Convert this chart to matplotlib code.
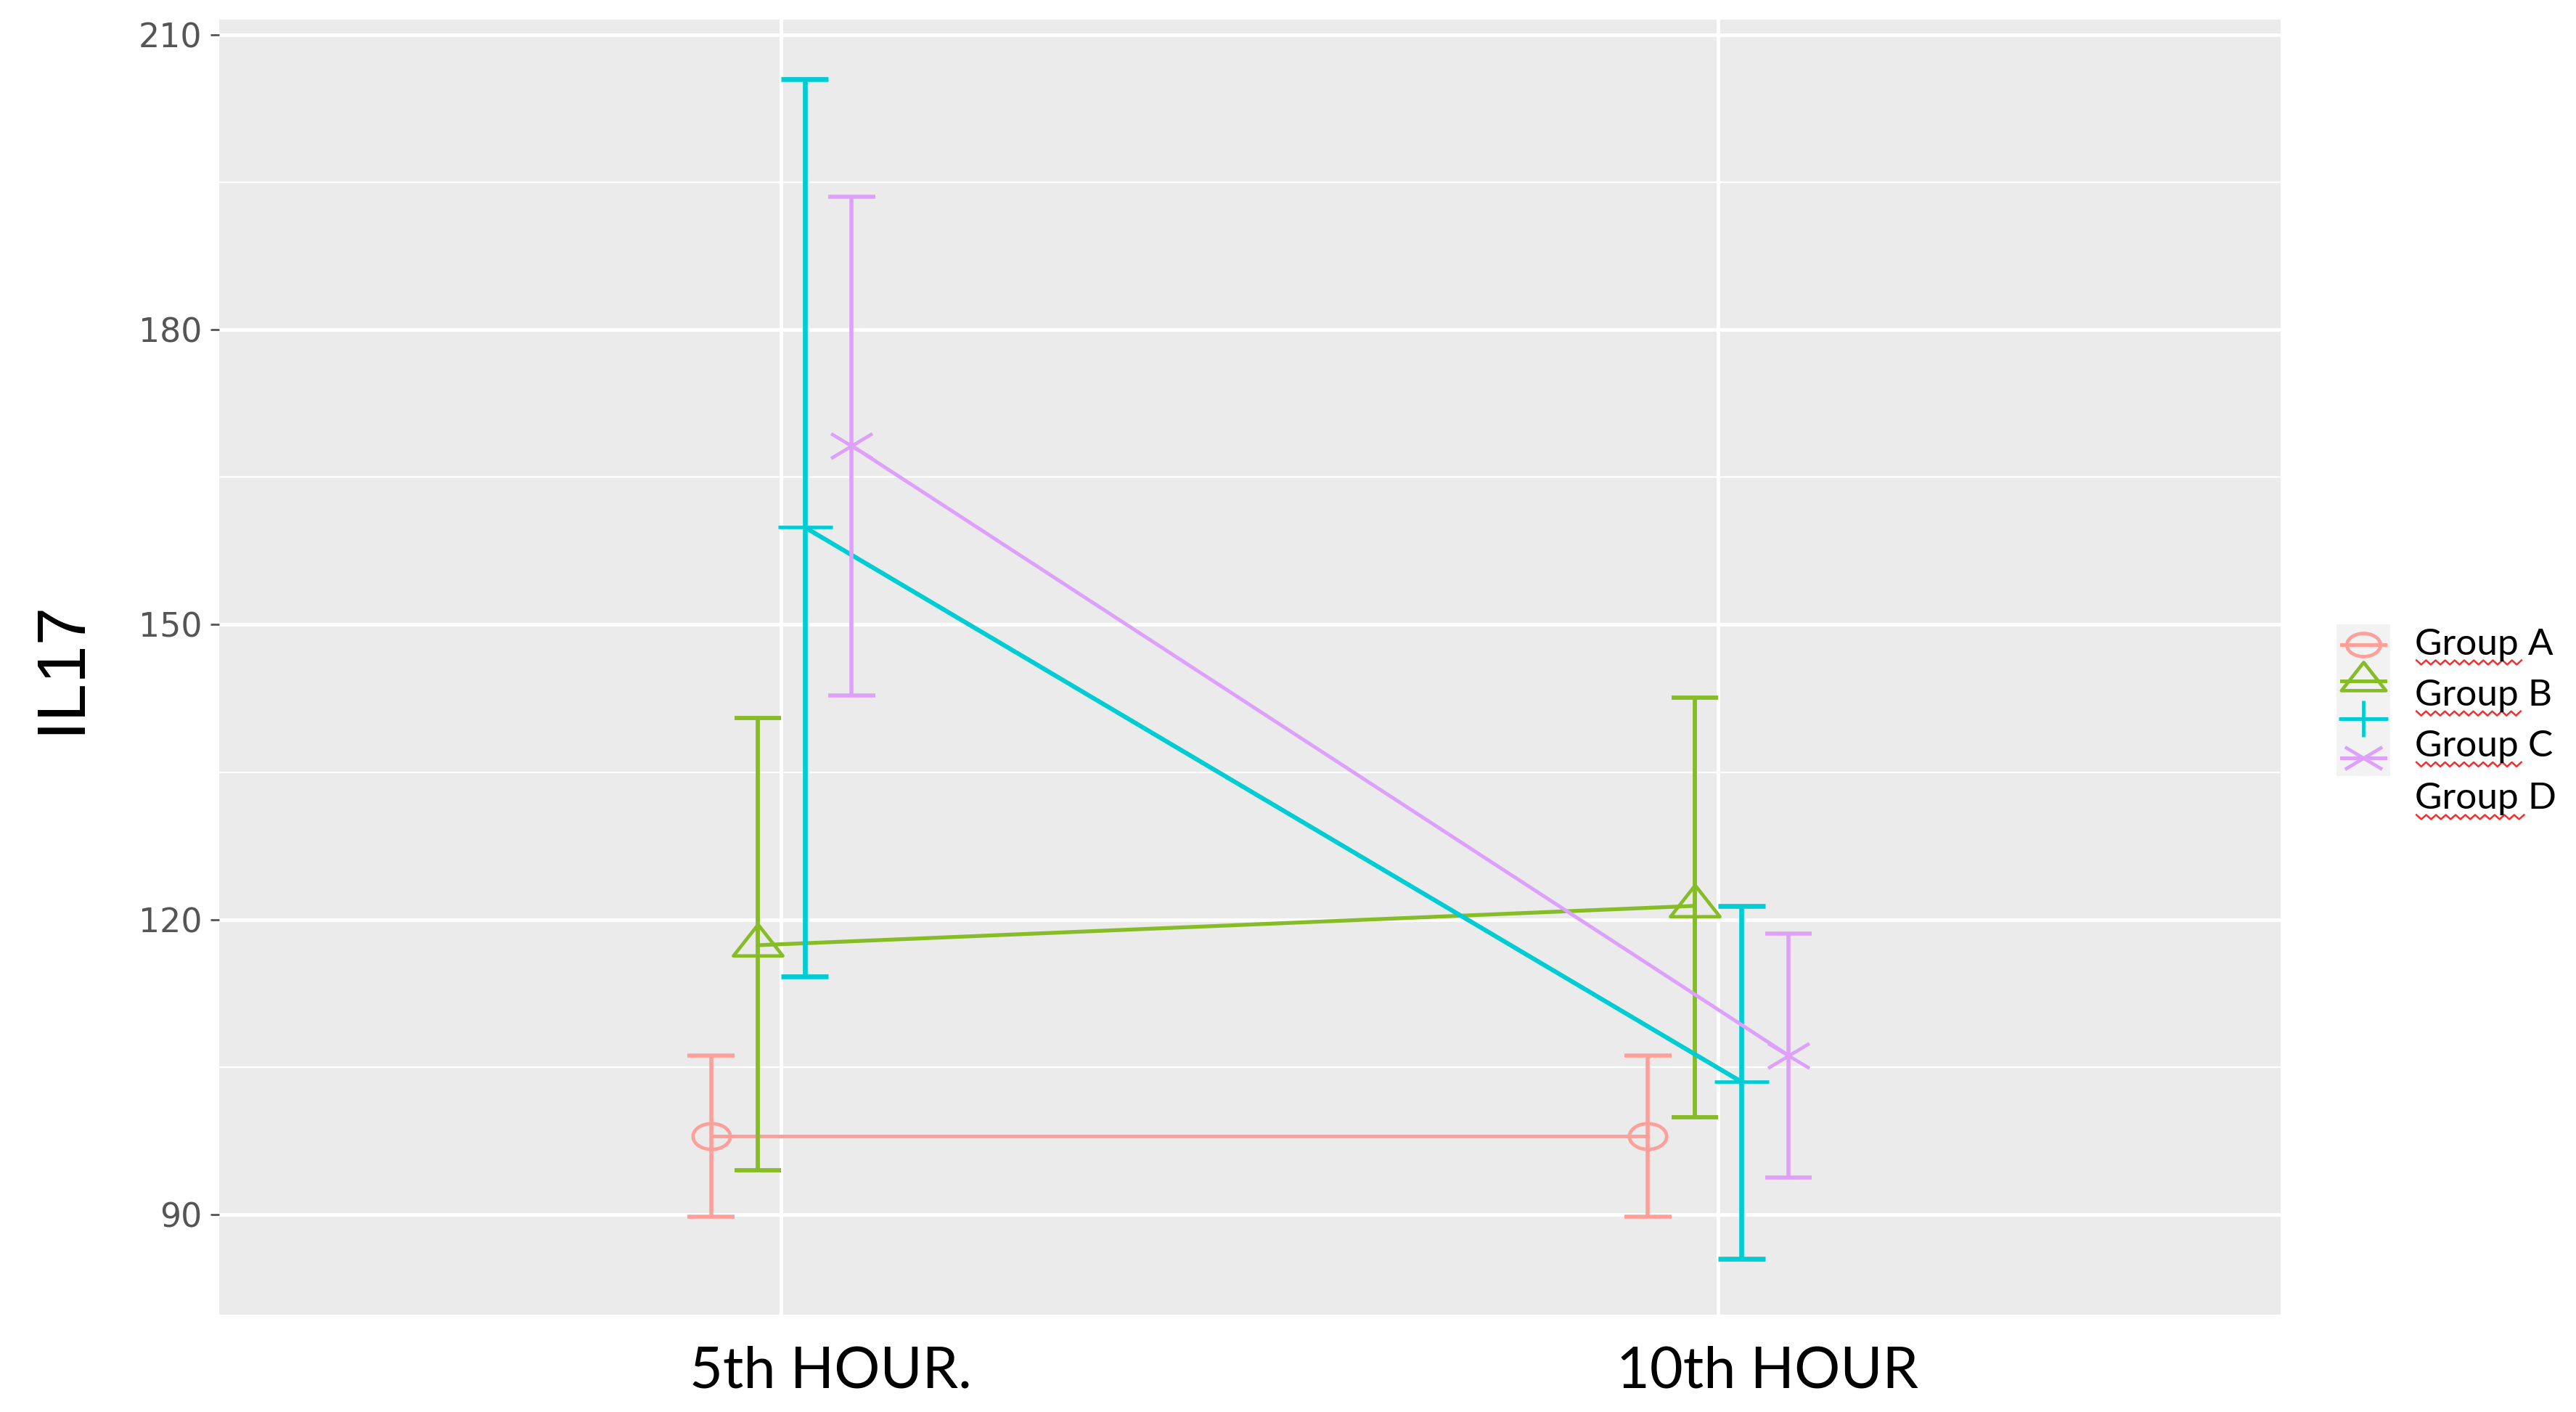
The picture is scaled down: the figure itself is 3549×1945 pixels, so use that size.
import numpy as np
import matplotlib
matplotlib.use("Agg")
import matplotlib.pyplot as plt
import matplotlib.transforms as mtransforms
from matplotlib.path import Path

# data
groups = ["Group A", "Group B", "Group C", "Group D"]
timepoints = ["5th HOUR.", "10th HOUR"]
mean_5th = [98.0, 117.4, 159.9, 168.2]
mean_10th = [98.0, 121.4, 103.5, 106.2]
upper_5th = [106.2, 140.5, 205.5, 193.5]
lower_5th = [89.8, 94.5, 114.2, 142.8]
upper_10th = [106.2, 142.6, 121.4, 118.6]
lower_10th = [89.8, 99.9, 85.5, 93.8]

colors = ["#FF9F9A", "#86BC25", "#00CCD3", "#DDA0FB"]
line_w = [3.6, 3.8, 4.4, 3.6]
dodge = [-0.075, -0.025, 0.025, 0.075]
cap_half = 0.025

# stretched marker shapes (picture is wider than tall)
t = np.linspace(0, 2 * np.pi, 61)
ellipse = Path(np.column_stack([1.45 * np.cos(t), np.sin(t)]), closed=True)
triangle = Path([(-1, -0.42), (1, -0.42), (0, 0.85), (-1, -0.42)], closed=True)
plus = Path([(-1, 0), (1, 0), (0, -0.75), (0, 0.75)],
            [Path.MOVETO, Path.LINETO, Path.MOVETO, Path.LINETO])
cross = Path([(-0.8, -0.48), (0.8, 0.48), (-0.8, 0.48), (0.8, -0.48)],
             [Path.MOVETO, Path.LINETO, Path.MOVETO, Path.LINETO])
markers = [ellipse, triangle, plus, cross]
msizes = [37, 49, 54, 41]

fig = plt.figure(figsize=(35.49, 19.45), dpi=100)
ax = fig.add_axes([0.0851, 0.0687, 0.8001, 0.9173])
ax.set_facecolor("#EBEBEB")
for s in ax.spines.values():
    s.set_visible(False)

for i, g in enumerate(groups):
    xs = [1 + dodge[i], 2 + dodge[i]]
    means = [mean_5th[i], mean_10th[i]]
    ups = [upper_5th[i], upper_10th[i]]
    los = [lower_5th[i], lower_10th[i]]
    c = colors[i]
    lw = line_w[i]
    ax.plot(xs, means, color=c, lw=lw, zorder=3)
    ax.plot(xs, means, linestyle="none", marker=markers[i], ms=msizes[i],
            mfc="none", mec=c, mew=3.4, zorder=4)
    ax.vlines(xs, los, ups, color=c, lw=lw + 0.4, zorder=3)
    ax.hlines(ups, np.array(xs) - cap_half, np.array(xs) + cap_half, color=c, lw=lw + 0.4, zorder=3)
    ax.hlines(los, np.array(xs) - cap_half, np.array(xs) + cap_half, color=c, lw=lw + 0.4, zorder=3)

ax.set_xlim(0.4, 2.6)
ax.set_ylim(79.8, 211.5)
ax.set_yticks([90, 120, 150, 180, 210])
ax.set_yticks([105, 135, 165, 195], minor=True)
ax.set_xticks([1, 2])
ax.set_xticklabels(timepoints, fontsize=57, family="Lato", color="black")
ax.grid(which="major", color="white", lw=3.5)
ax.grid(which="minor", axis="y", color="white", lw=1.6)
ax.set_axisbelow(True)
ax.tick_params(axis="y", which="major", length=9, width=2, color="#555555",
               labelsize=33, labelcolor="#555555", pad=8)
ax.tick_params(axis="y", which="minor", length=0)
ax.tick_params(axis="x", length=0, pad=30)
for lab in ax.get_yticklabels():
    lab.set_family("DejaVu Sans")
shift = mtransforms.ScaledTranslation(0.68, 0, fig.dpi_scale_trans)
for lab in ax.get_xticklabels():
    lab.set_transform(lab.get_transform() + shift)

ax.set_ylabel("IL17", fontsize=68, family="Liberation Sans")
ax.yaxis.set_label_coords(-0.061, 0.5)

# legend keys (drawn by hand, as in the picture)
lax = fig.add_axes([0.9069, 0.4505, 0.0211, 0.1071])
lax.set_facecolor("#F2F2F2")
lax.set_xlim(0, 1)
lax.set_ylim(0, 1)
lax.set_xticks([])
lax.set_yticks([])
for s in lax.spines.values():
    s.set_visible(False)
key_y = [0.87, 0.63, 0.38, 0.12]
for i in range(4):
    lax.plot([0.1, 0.9], [key_y[i], key_y[i]], color=colors[i], lw=3.6)
    lax.plot([0.5], [key_y[i]], marker=markers[i], ms=msizes[i] * 0.9,
             mfc="none", mec=colors[i], mew=3.4)

label_y = [0.5437, 0.5076, 0.4715, 0.4342]
texts = []
for g, y in zip(groups, label_y):
    texts.append(fig.text(0.9375, y, g, fontsize=37, family="Lato",
                          va="center", ha="left", color="black"))

# red wavy spell-check underline under "Group"
fig.canvas.draw()
r = fig.canvas.get_renderer()
for tx in texts:
    bb = tx.get_window_extent(r)
    x0 = bb.x0 + 2
    x1 = bb.x0 + bb.width * 0.77
    yb = bb.y0 - 2
    n = int((x1 - x0) / 6.5)
    zx = x0 + np.arange(n + 1) * (x1 - x0) / n
    zy = yb + np.where(np.arange(n + 1) % 2 == 0, 3, -3)
    fig.add_artist(plt.Line2D(zx / fig.bbox.width, zy / fig.bbox.height,
                              color="#F03030", lw=1.8, transform=fig.transFigure))

fig.savefig("out.png", dpi=100, facecolor="white")
